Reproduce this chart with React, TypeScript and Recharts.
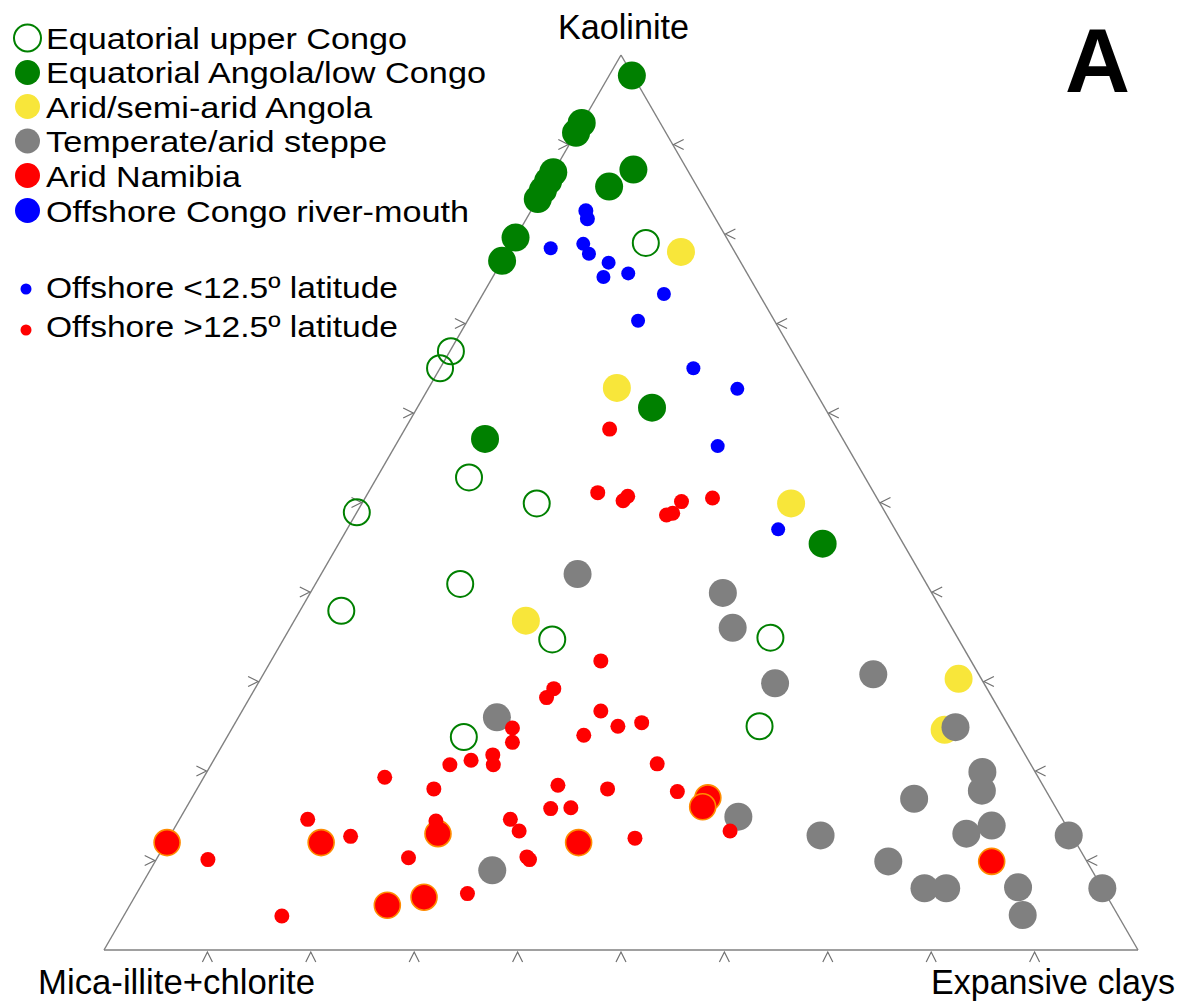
import React from 'react';
import { ScatterChart, Scatter, XAxis, YAxis, ReferenceLine } from 'recharts';

// Each sample: [kaolinite %, expansive clays %]  (mica-illite+chlorite = remainder)
const upperCongo: [number, number][] = [
  [79.0, 12.9], [66.9, 0.1], [65.0, 0.0], [52.8, 8.9], [49.9, 16.9], [48.9, 0.0],
  [40.9, 14.0], [37.9, 4.0], [34.7, 26.0], [34.9, 47.0], [23.8, 22.9], [25.0, 50.9],
];
const angolaLowCongo: [number, number][] = [
  [97.7, 2.2], [92.4, 0.0], [91.3, 0.0], [86.9, 0.0], [85.9, 0.0], [84.9, 0.0], [83.9, 0.0],
  [87.2, 7.6], [85.3, 6.2], [79.6, 0.0], [77.0, 0.0], [57.1, 8.3], [60.6, 22.7], [45.4, 46.8],
];
const aridAngola: [number, number][] = [
  [78.0, 16.8], [62.8, 18.2], [49.9, 41.5], [36.8, 22.4], [30.3, 67.5], [24.6, 69.0],
];
const steppe: [number, number][] = [
  [42.0, 24.8], [39.9, 39.9], [36.0, 42.8], [29.8, 50.0], [30.8, 59.0], [24.9, 69.9],
  [19.9, 75.0], [17.8, 76.0], [16.9, 69.9], [14.9, 53.9], [12.8, 62.9], [13.0, 76.9],
  [13.9, 78.9], [12.8, 86.9], [9.9, 70.9], [6.9, 75.9], [6.9, 78.0], [7.0, 84.9],
  [3.9, 86.9], [6.9, 93.1], [26.0, 25.0], [8.9, 33.1],
];
const aridNamibia: [number, number][] = [
  [12.0, 0.1], [12.0, 15.0], [13.0, 25.8], [5.0, 24.9], [5.9, 28.0], [12.0, 39.9],
  [17.0, 49.9], [16.0, 49.9], [9.9, 80.9],
];
const riverMouth: [number, number][] = [[82.6, 5.3], [81.7, 5.9]];
const offshoreLow: [number, number][] = [
  [78.4, 4.0], [78.9, 6.9], [77.8, 8.0], [76.8, 10.4], [75.2, 10.7], [75.6, 12.9],
  [73.3, 17.5], [70.3, 16.5], [65.0, 24.5], [62.7, 29.9], [56.3, 31.2], [47.0, 41.7],
];
const offshoreHigh: [number, number][] = [
  [58.2, 19.8], [51.1, 22.2], [50.2, 25.1], [50.7, 25.3], [50.1, 30.8], [48.6, 30.1],
  [48.8, 30.6], [50.5, 33.6], [32.3, 31.9], [29.2, 28.9], [28.2, 28.7], [26.7, 34.7],
  [25.0, 37.2], [25.4, 39.3], [24.0, 34.4], [24.8, 27.1], [23.2, 27.9], [21.8, 26.7],
  [20.7, 27.3], [21.2, 24.9], [20.7, 23.1], [19.3, 17.5], [18.0, 22.9], [20.8, 43.1],
  [18.4, 34.7], [18.0, 39.7], [17.7, 46.6], [15.8, 35.3], [15.9, 37.2], [14.6, 32.0],
  [13.3, 33.5], [14.4, 24.9], [14.6, 12.4], [12.7, 17.5], [10.3, 24.3], [10.4, 35.7],
  [10.1, 36.1], [12.5, 45.1], [13.3, 53.9], [6.3, 32.0], [10.1, 5.0], [3.8, 15.3],
];

const tickValues = [10, 20, 30, 40, 50, 60, 70, 80, 90];
const apexLabel = 'Kaolinite';
const leftLabel = 'Mica-illite+chlorite';
const rightLabel = 'Expansive clays';
const panelLabel = 'A';
const legendLabels = [
  'Equatorial upper Congo',
  'Equatorial Angola/low Congo',
  'Arid/semi-arid Angola',
  'Temperate/arid steppe',
  'Arid Namibia',
  'Offshore Congo river-mouth',
];
const smallLegendLabels = ['Offshore <12.5º latitude', 'Offshore >12.5º latitude'];

const toXY = (arr: [number, number][]) => arr.map(([k, e]) => ({ x: e + k / 2, y: k }));

const tickData = [
  ...tickValues.map((v) => ({ x: v, y: 0, side: 'b' })),
  ...tickValues.map((v) => ({ x: v / 2, y: v, side: 'l' })),
  ...tickValues.map((v) => ({ x: 100 - v / 2, y: v, side: 'r' })),
];

const GREEN = '#008000';
const YELLOW = '#f8e63a';
const GRAY = '#808080';
const RED = '#ff0000';
const BLUE = '#0000ff';
const ORANGE = '#ff8c00';

const dot = (fill: string, stroke: string, r: number, sw: number) => (props: any) => (
  <circle cx={props.cx} cy={props.cy} r={r} fill={fill} stroke={stroke} strokeWidth={sw} />
);

const tickShape = (props: any) => {
  const { cx, cy, payload } = props;
  let d = '';
  if (payload.side === 'b') d = `M${cx - 5},${cy + 12} L${cx},${cy + 2} L${cx + 5},${cy + 12}`;
  else if (payload.side === 'l') d = `M${cx - 11},${cy - 5} L${cx - 1},${cy} L${cx - 11},${cy + 5}`;
  else d = `M${cx + 11},${cy - 5} L${cx + 1},${cy} L${cx + 11},${cy + 5}`;
  return <path d={d} fill="none" stroke="#707070" strokeWidth={1.2} />;
};

const FONT = '"Liberation Sans", Arial, sans-serif';

export default function App() {
  const legendWidths = [361, 440, 326, 341, 195, 423];
  const legendBaselines = [49, 83, 118, 152, 187, 222];
  const legendMarkers = [
    { fill: 'none', stroke: GREEN, y: 38, r: 13.5 },
    { fill: GREEN, stroke: 'none', y: 72.5, r: 12.5 },
    { fill: YELLOW, stroke: 'none', y: 106.5, r: 12.5 },
    { fill: GRAY, stroke: 'none', y: 141, r: 12.5 },
    { fill: RED, stroke: 'none', y: 175.5, r: 12.5 },
    { fill: BLUE, stroke: 'none', y: 210.5, r: 12.5 },
  ];
  return (
    <div style={{ position: 'absolute', left: 0, top: 0, width: 1184, height: 1005, background: '#fff' }}>
      <ScatterChart width={1184} height={1005} margin={{ top: 55, right: 46, bottom: 55, left: 104 }}>
        <XAxis type="number" dataKey="x" domain={[0, 100]} hide />
        <YAxis type="number" dataKey="y" domain={[0, 100]} hide />
        <ReferenceLine segment={[{ x: 0, y: 0 }, { x: 100, y: 0 }]} stroke={GRAY} strokeWidth={1.6} ifOverflow="visible" />
        <ReferenceLine segment={[{ x: 0, y: 0 }, { x: 50, y: 100 }]} stroke={GRAY} strokeWidth={1.4} ifOverflow="visible" />
        <ReferenceLine segment={[{ x: 100, y: 0 }, { x: 50, y: 100 }]} stroke={GRAY} strokeWidth={1.4} ifOverflow="visible" />
        <Scatter data={tickData} shape={tickShape} isAnimationActive={false} />
        <Scatter data={toXY(upperCongo)} shape={dot('none', GREEN, 13, 2)} isAnimationActive={false} />
        <Scatter data={toXY(angolaLowCongo)} shape={dot(GREEN, 'none', 14, 0)} isAnimationActive={false} />
        <Scatter data={toXY(aridAngola)} shape={dot(YELLOW, 'none', 14, 0)} isAnimationActive={false} />
        <Scatter data={toXY(steppe)} shape={dot(GRAY, 'none', 14, 0)} isAnimationActive={false} />
        <Scatter data={toXY(aridNamibia)} shape={dot(RED, ORANGE, 13, 1.6)} isAnimationActive={false} />
        <Scatter data={toXY(riverMouth)} shape={dot(BLUE, 'none', 7.5, 0)} isAnimationActive={false} />
        <Scatter data={toXY(offshoreLow)} shape={dot(BLUE, 'none', 7, 0)} isAnimationActive={false} />
        <Scatter data={toXY(offshoreHigh)} shape={dot(RED, 'none', 7.5, 0)} isAnimationActive={false} />
      </ScatterChart>
      <svg width={1184} height={1005} style={{ position: 'absolute', left: 0, top: 0, pointerEvents: 'none' }}>
        <g fontFamily={FONT} fill="#000">
          {legendLabels.map((t, i) => (
            <g key={t}>
              <circle
                cx={27.5}
                cy={legendMarkers[i].y}
                r={legendMarkers[i].r}
                fill={legendMarkers[i].fill}
                stroke={legendMarkers[i].stroke}
                strokeWidth={legendMarkers[i].stroke === 'none' ? 0 : 2}
              />
              <text x={46} y={legendBaselines[i]} fontSize={30} textLength={legendWidths[i]} lengthAdjust="spacingAndGlyphs">
                {t}
              </text>
            </g>
          ))}
          <circle cx={26} cy={289} r={5.5} fill={BLUE} />
          <circle cx={26} cy={330} r={5.5} fill={RED} />
          <text x={46} y={298} fontSize={30} textLength={352} lengthAdjust="spacingAndGlyphs">{smallLegendLabels[0]}</text>
          <text x={46} y={337} fontSize={30} textLength={352} lengthAdjust="spacingAndGlyphs">{smallLegendLabels[1]}</text>
          <text x={558} y={39} fontSize={35} textLength={131} lengthAdjust="spacingAndGlyphs">{apexLabel}</text>
          <text x={38} y={994} fontSize={35} textLength={277} lengthAdjust="spacingAndGlyphs">{leftLabel}</text>
          <text x={931} y={994} fontSize={35} textLength={244} lengthAdjust="spacingAndGlyphs">{rightLabel}</text>
          <text x={1097.5} y={92} fontSize={90} fontWeight="bold" textAnchor="middle">{panelLabel}</text>
        </g>
      </svg>
    </div>
  );
}
